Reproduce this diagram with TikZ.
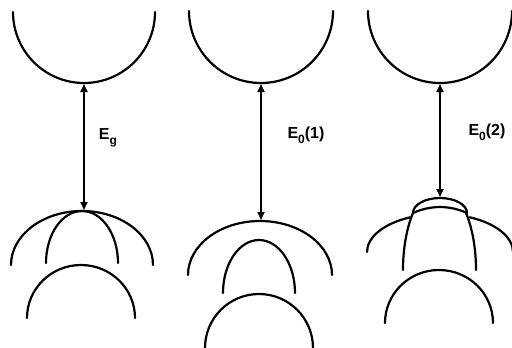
\documentclass[tikz,border=0pt]{standalone}
\usepackage{fontspec}
\setmainfont{Liberation Sans}
\usepackage{tikz}
\usetikzlibrary{arrows.meta}
\newcommand{\lowsub}[1]{\raisebox{-5pt}{\fontsize{12}{12}\selectfont #1}}
\tikzset{
  bandline/.style={line width=2.2pt, line cap=round},
  gaparr/.style={{Triangle[length=8pt,width=7pt]}-{Triangle[length=8pt,width=7pt]}, line width=1.8pt},
  gaplabel/.style={font=\fontsize{16}{18}\selectfont\bfseries, inner sep=0pt, anchor=center}
}
\begin{document}
\begin{tikzpicture}[x=1pt,y=1pt]
      \useasboundingbox (0,0) rectangle (512,-348);
      \draw[bandline] (13,-12) arc[start angle=180, end angle=360, radius=71];
      \draw[bandline] (11,-265) arc[start angle=180, end angle=0, x radius=71, y radius=54];
      \draw[bandline] (46,-263) arc[start angle=180, end angle=0, x radius=36, y radius=52];
      \draw[bandline] (27,-318) arc[start angle=180, end angle=0, x radius=54, y radius=53];
      \coordinate (cb1) at (84,-84); \coordinate (vb1) at (84,-210);
      \draw[gaparr] (cb1) -- (vb1);
      \node[gaplabel] (eg) at (108,-138) {E\lowsub{g}};
      \draw[bandline] (189,-11) arc[start angle=180, end angle=360, radius=72];
      \draw[bandline] (188,-275) arc[start angle=180, end angle=0, x radius=72, y radius=54];
      \draw[bandline] (223,-293) arc[start angle=180, end angle=0, x radius=36, y radius=53];
      \draw[bandline] (205,-348) arc[start angle=180, end angle=0, x radius=54, y radius=54];
      \coordinate (cb2) at (261,-84); \coordinate (vb2) at (261,-220);
      \draw[gaparr] (cb2) -- (vb2);
      \node[gaplabel] (eo1) at (306,-135) {E\lowsub{0}(1)};
      \draw[bandline] (368,-11) arc[start angle=180, end angle=360, radius=72];
      \draw[bandline] (367,-252) arc[start angle=180, end angle=114, x radius=73, y radius=38];
      \draw[bandline] ([shift={(66:73 and 38)}]440,-252) arc[start angle=66, end angle=0, x radius=73, y radius=38];
      \draw[bandline] (403,-270) arc[start angle=180, end angle=137, x radius=36.5, y radius=83];
      \draw[bandline] ([shift={(43:36.5 and 83)}]439.5,-270) arc[start angle=43, end angle=0, x radius=36.5, y radius=83];
      \draw[bandline] (413,-213) arc[start angle=180, end angle=0, x radius=27, y radius=15];
      \draw[bandline] (413,-213) parabola bend (440,-207) (467,-213);
      \draw[bandline] (385,-323) arc[start angle=180, end angle=0, x radius=54, y radius=53];
      \coordinate (cb3) at (440,-84); \coordinate (vb3) at (440,-197);
      \draw[gaparr] (cb3) -- (vb3);
      \node[gaplabel] (eo2) at (487,-132) {E\lowsub{0}(2)};
\end{tikzpicture}
\end{document}
